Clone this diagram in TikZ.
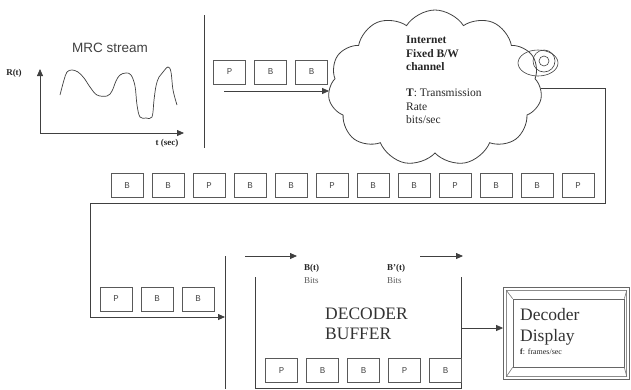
\documentclass[tikz,border=0pt]{standalone}
\usepackage{fontspec}
\setmainfont{Liberation Serif}
\newfontfamily\arialfont{Liberation Sans}
\newfontfamily\courfont{Liberation Mono}
\usetikzlibrary{arrows.meta,shapes.symbols,positioning}
\tikzset{
    flowarrow/.style={
        line width=0.8pt,
        black!75,
        -{Triangle[length=7pt, width=6pt]}
    },
    % boxes holding one P or B frame
    frame/.style={
        draw=black!65,
        line width=0.7pt,
        minimum width=32,
        minimum height=24,
        inner sep=0pt,
        text=black!70,
        font=\courfont\fontsize{9}{9}\selectfont
    },
    edge/.style={line width=0.8pt, black!75},
    smalllabel/.style={font=\fontsize{9}{10}\selectfont, inner sep=0pt, text=black!85}
}

\begin{document}
\begin{tikzpicture}[x=1pt, y=-1pt]
	\useasboundingbox (0,0) rectangle (631,389);

	% MRC stream plot
	\node [font=\arialfont\fontsize{13.5}{14}\selectfont, text=black!75] (title) at (110,48) {MRC stream};
	\coordinate (o) at (40,133);
	\coordinate (ytop) at (40,69);
	\coordinate (xend) at (184,133);
	\draw[flowarrow] (o) -- (ytop);
	\draw[flowarrow] (o) -- (xend);
	\node [smalllabel, font=\bfseries\fontsize{9}{10}\selectfont] (rt) at (14,73) {R(t)};
	\node [smalllabel, font=\bfseries\fontsize{9}{10}\selectfont] (ts) at (167,143) {t (sec)};
	\draw[edge, line width=0.7pt] plot[smooth, tension=0.6] coordinates {(60,95) (64,80) (67,72) (72,70) (78,72) (84,78) (90,87) (97,95) (107,96) (112,91) (116,81) (120,75) (126,73) (131,75) (135,86) (137,105) (140,117) (146,118) (152,117) (154,100) (156,86) (159,77) (163,72) (168,67) (171,72) (173,90) (177,105)};

	\draw[edge] (204,15) -- (204,148);

	% frames sent into the network
	\foreach \lbl [count=\i from 0] in {P,B,B}
		\node[frame] (top\i) at (229.5+41*\i,72) {\lbl};
	\coordinate (send) at (224,91);

	% network cloud
	\node[cloud, draw=black!75, line width=0.8pt, cloud puffs=11, cloud puff arc=115, aspect=1.35, minimum width=214, minimum height=156, inner sep=0pt] (net) at (435,88) {};
	\node[anchor=north west, align=left, inner sep=0pt, font=\fontsize{11.5}{13.3}\selectfont, text=black!85] (nettext) at (406,36) {\textbf{Internet}\\\textbf{Fixed B/W}\\\textbf{channel}\\~\\\textbf{T}: Transmission\\Rate\\bits/sec};
	\draw[flowarrow] (send) -- (send -| net.west);

	\draw[edge, line width=0.6pt] (538,63) ellipse [x radius=20, y radius=13];
	\draw[edge, line width=0.6pt] (544,61) circle (11);
	\draw[edge, line width=0.6pt] (544,61) circle (5);

	% frames in transit
	\foreach \lbl [count=\i from 0] in {B,B,P,B,B,P,B,B,P,B,B,P}
		\node[frame] (row\i) at (127+41*\i,185.5) {\lbl};
	\coordinate (turnne) at (605,203);
	\coordinate (turnsw) at (90,203);
	\coordinate (feed) at (225,317);
	\draw[flowarrow] (net.east) -| (turnne) -- (turnsw) |- (feed);

	\foreach \lbl [count=\i from 0] in {P,B,B}
		\node[frame] (low\i) at (116+41*\i,299) {\lbl};

	% decoder buffer
	\draw[edge] (225,256) -- (225,389);
	\coordinate (bin) at (245,256);
	\coordinate (binend) at (297,256);
	\draw[flowarrow] (bin) -- (binend);
	\coordinate (bout) at (420,256);
	\coordinate (boutend) at (463,256);
	\draw[flowarrow] (bout) -- (boutend);
	\draw[edge] (255,277) -- (255,388) -- (461,388) -- (461,277);

	\node[smalllabel, anchor=base west, font=\bfseries\fontsize{9}{10}\selectfont] (bt) at (304,270) {B(t)};
	\node[smalllabel, anchor=base west, text=black!65] (btbits) at (304,283) {Bits};
	\node[smalllabel, anchor=base west, font=\bfseries\fontsize{9}{10}\selectfont] (bpt) at (387,270) {B'(t)};
	\node[smalllabel, anchor=base west, text=black!65] (bptbits) at (387,283) {Bits};

	\node[anchor=base west, align=left, inner sep=0pt, font=\fontsize{17.5}{20}\selectfont, text=black!80] (buftext) at (325,339) {DECODER\\BUFFER};

	\foreach \lbl [count=\i from 0] in {P,B,B,P,B}
		\node[frame] (buf\i) at (281.5+41*\i,370.5) {\lbl};

	% display
	\node[draw=black!60, line width=0.8pt, minimum width=126, minimum height=92, inner sep=0pt] (disp) at (566.5,333.5) {};
	\node[draw=black!45, line width=0.6pt, minimum width=120, minimum height=86, inner sep=0pt] (rim) at (566.5,333.5) {};
	\node[draw=black!60, line width=0.7pt, minimum width=111, minimum height=68, inner sep=0pt] (screen) at (568.5,333) {};
	\foreach \c in {north west,north east,south west,south east}
		\draw[black!55, line width=0.6pt] (rim.\c) -- (screen.\c);
	\coordinate (bufout) at (461,328);
	\draw[flowarrow] (bufout) -- (bufout -| disp.west);

	\node[anchor=base west, inner sep=0pt, font=\fontsize{17.5}{20}\selectfont, text=black!80] (dec) at (520,320) {Decoder};
	\node[anchor=base west, inner sep=0pt, font=\fontsize{17.5}{20}\selectfont, text=black!80] (dis) at (520,341) {Display};
	\node[smalllabel, anchor=base west, font=\fontsize{8}{9}\selectfont] (fps) at (520,354) {\textbf{f}: frames/sec};
\end{tikzpicture}
\end{document}
